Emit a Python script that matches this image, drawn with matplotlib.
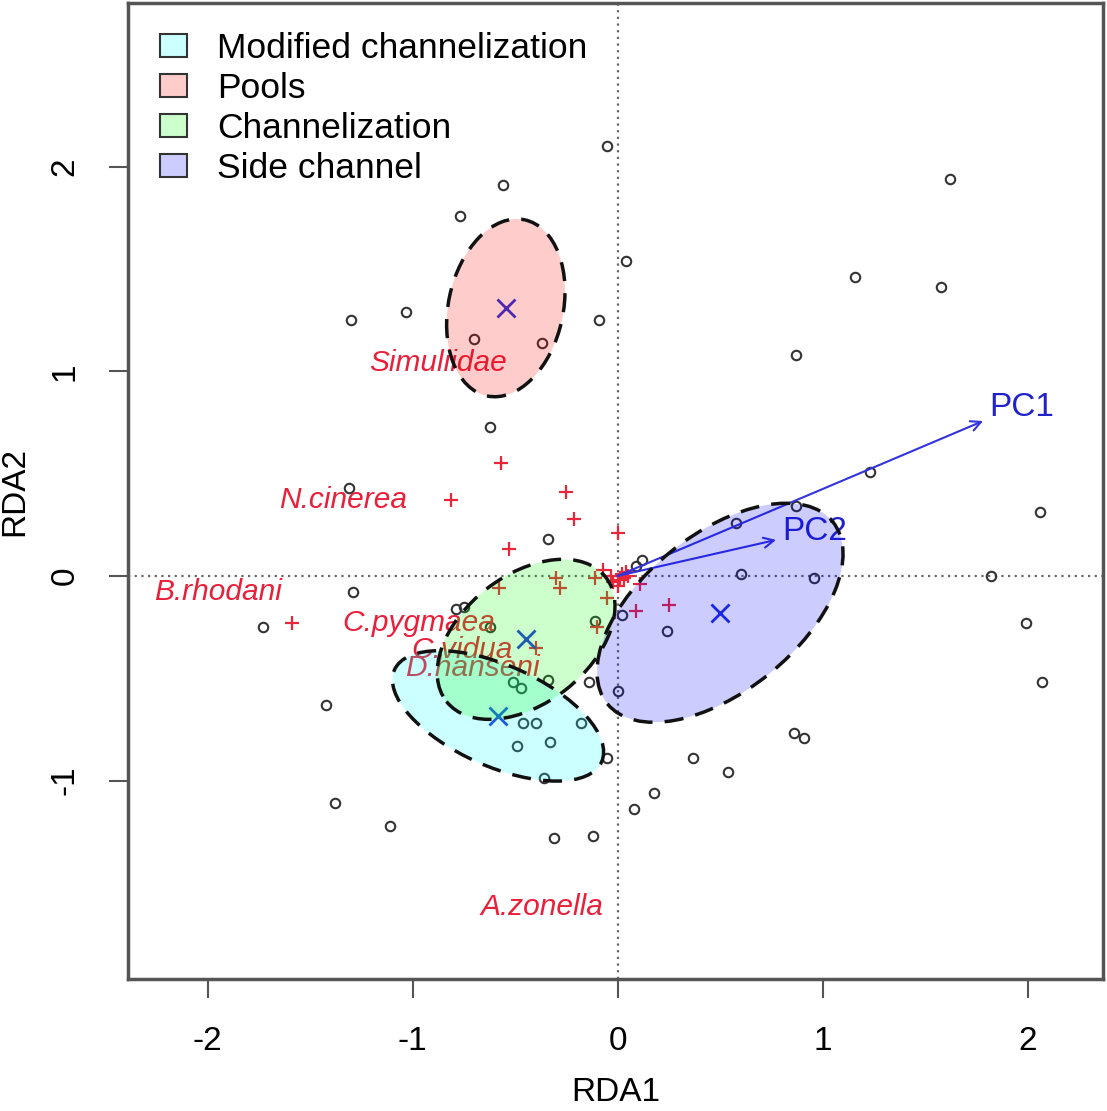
import matplotlib.pyplot as plt
from matplotlib.patches import Ellipse, Patch
import numpy as np

plt.rcParams['font.family'] = ['Liberation Sans', 'DejaVu Sans']
plt.rcParams['axes.unicode_minus'] = False

# site scores (open circles)
site_x = [-0.05, -0.56, -0.77, 1.62, 1.16, 1.58, 0.04, -1.30, -1.03, -0.09,
          -0.70, -0.37, 0.87, -0.62, -1.31, 1.23, 2.06, -0.34, -1.73, -1.42,
          -1.38, -1.11, -0.31, -0.12, 0.08, 0.18, 0.37, 0.54, 0.86, 0.91,
          1.82, 1.99, 2.07, 0.58, 0.87, 0.60, 0.96, 0.12, 0.02, 0.24,
          0.00, -0.14, -0.11, -1.29, -0.79, -0.75, -0.62, -0.51, -0.47, -0.34,
          -0.46, -0.40, -0.18, -0.49, -0.33, -0.05, -0.36, 0.09]
site_y = [2.10, 1.91, 1.76, 1.94, 1.46, 1.41, 1.54, 1.25, 1.29, 1.25,
          1.16, 1.14, 1.08, 0.73, 0.43, 0.51, 0.31, 0.18, -0.25, -0.63,
          -1.11, -1.22, -1.28, -1.27, -1.14, -1.06, -0.89, -0.96, -0.77, -0.79,
          0.00, -0.23, -0.52, 0.26, 0.34, 0.01, -0.01, 0.08, -0.19, -0.27,
          -0.56, -0.52, -0.22, -0.08, -0.16, -0.15, -0.25, -0.52, -0.55, -0.51,
          -0.72, -0.72, -0.72, -0.83, -0.81, -0.89, -0.99, 0.05]

# species scores (red crosses)
spec_x = [-0.57, -0.81, -0.25, -0.21, 0.00, -0.53, -1.59, -0.58, -0.30, -0.28,
          -0.11, -0.07, -0.05, -0.10, -0.40, 0.09, 0.11, 0.25,
          0.01, 0.02, -0.02, 0.03, 0.00, -0.03, 0.04, 0.05]
spec_y = [0.55, 0.37, 0.41, 0.28, 0.21, 0.13, -0.23, -0.06, -0.01, -0.06,
          -0.01, 0.03, -0.11, -0.25, -0.35, -0.17, -0.04, -0.14,
          -0.02, 0.01, -0.03, -0.01, -0.05, 0.00, 0.02, 0.00]

# species names shown
lab_names = ['Simuliidae', 'N.cinerea', 'B.rhodani', 'C.pygmaea', 'C.vidua', 'D.hanseni', 'A.zonella']
lab_x = [-0.875, -1.34, -1.95, -0.97, -0.76, -0.71, -0.37]
lab_y = [1.04, 0.37, -0.08, -0.23, -0.36, -0.45, -1.62]

# environmental vectors
pc_names = ['PC1', 'PC2']
pc_x = [1.783, 0.773]
pc_y = [0.757, 0.176]
pc_lab_x = [1.97, 0.96]
pc_lab_y = [0.825, 0.215]

# groups: centroid and ellipse (semi axes, angle)
groups = ['Modified channelization', 'Pools', 'Channelization', 'Side channel']
grp_col = [(0, 1, 1, 0.2), (1, 0, 0, 0.2), (0, 1, 0, 0.2), (0, 0, 1, 0.2)]
cen_x = [-0.583, -0.545, -0.446, 0.50]
cen_y = [-0.684, 1.31, -0.31, -0.18]
semi_a = [0.247, 0.28, 0.313, 0.383]
semi_b = [0.553, 0.44, 0.493, 0.707]
ell_ang = [66, -12, -52, -51]

fig = plt.figure(figsize=(11.07, 11.11), dpi=100)
ax = fig.add_axes([0.1156, 0.1188, 0.8808, 0.8785])

ax.axhline(0, color='#666666', ls=(0, (1, 2)), lw=1.6, zorder=1)
ax.axvline(0, color='#666666', ls=(0, (1, 2)), lw=1.6, zorder=1)

ax.plot(site_x, site_y, 'o', ms=6.8, mfc='none', mec='#333333', mew=1.5, zorder=2)
ax.plot(spec_x, spec_y, '+', ms=10, color='#e8283a', mew=1.6, zorder=2)
for n, x, y in zip(lab_names, lab_x, lab_y):
    ax.text(x, y, n, color='#e8203a', style='italic', fontsize=21.5,
            ha='center', va='center', zorder=2)

ax.plot(cen_x, cen_y, 'x', ms=13, color='#2233dd', mew=2, zorder=2)

for n, x, y, lx, ly in zip(pc_names, pc_x, pc_y, pc_lab_x, pc_lab_y):
    ax.annotate('', xy=(x, y), xytext=(0, 0),
                arrowprops=dict(arrowstyle='->', color='#3333dd', lw=1.5,
                                mutation_scale=18, shrinkA=0, shrinkB=0), zorder=2)
    ax.text(lx, ly, n, color='#2222cc', fontsize=24, ha='center', va='center', zorder=2)

# ellipses drawn over the points, like ordiellipse
for i in range(len(groups)):
    e = Ellipse((cen_x[i], cen_y[i]), 2 * semi_a[i], 2 * semi_b[i], angle=ell_ang[i],
                facecolor=grp_col[i], edgecolor='none', zorder=3)
    ax.add_patch(e)
    e2 = Ellipse((cen_x[i], cen_y[i]), 2 * semi_a[i], 2 * semi_b[i], angle=ell_ang[i],
                 facecolor='none', edgecolor='#111111', lw=2.5, ls=(0, (5.5, 3.5)), zorder=4)
    ax.add_patch(e2)

handles = [Patch(facecolor=c, edgecolor='#333333', lw=1.5) for c in grp_col]
ax.legend(handles, groups, loc='upper left', frameon=False, fontsize=25.5,
          handlelength=0.75, handleheight=0.65, handletextpad=0.85,
          labelspacing=0.2, borderpad=0, borderaxespad=0,
          bbox_to_anchor=(0.033, 0.9705))

ax.set_xlim(-2.388, 2.368)
ax.set_ylim(-1.97, 2.80)
ax.set_xticks([-2, -1, 0, 1, 2])
ax.set_yticks([-1, 0, 1, 2])
ax.set_yticklabels(['-1', '0', '1', '2'], rotation=90, va='center')
ax.tick_params(labelsize=24, length=14, width=1.5, color='#555555', pad=20)
for s in ax.spines.values():
    s.set_color('#555555')
    s.set_linewidth(2.5)
ax.set_xlabel('RDA1', fontsize=24, labelpad=14)
ax.set_ylabel('RDA2', fontsize=24, labelpad=14)

plt.savefig('out.png', dpi=100)
